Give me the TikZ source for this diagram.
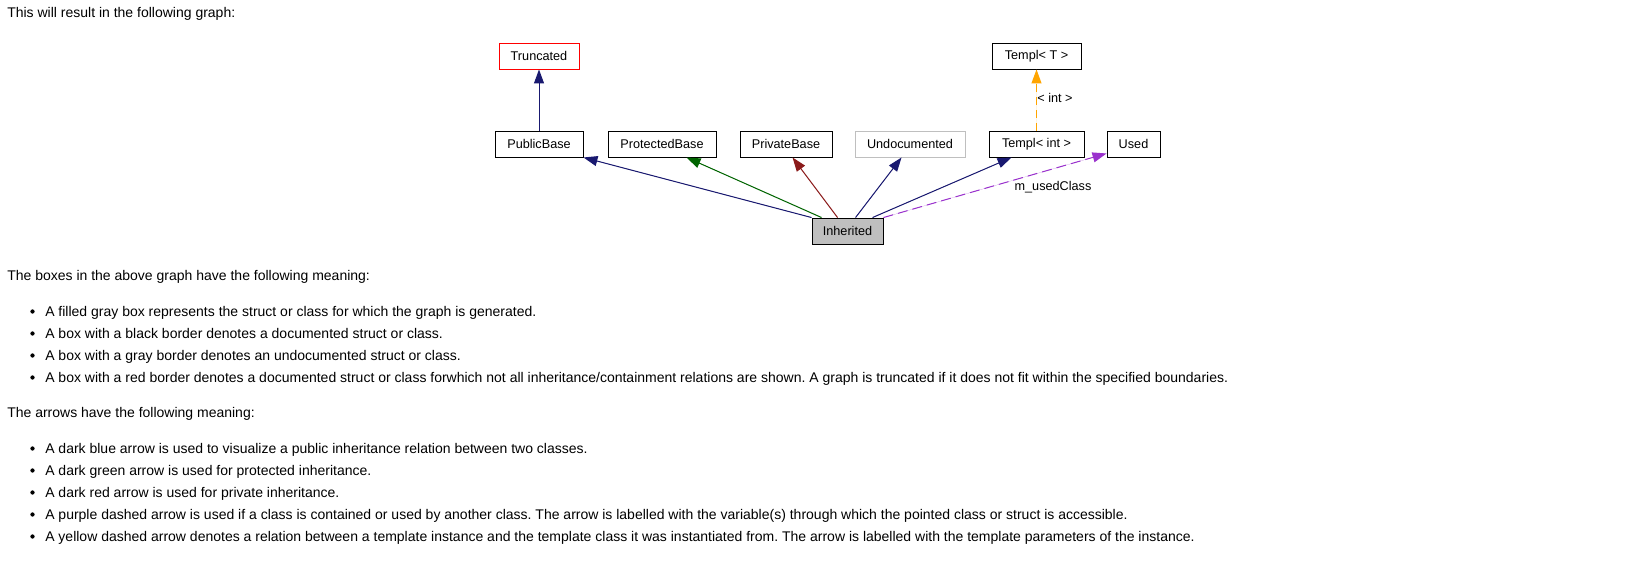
\documentclass[tikz,border=0pt]{standalone}
\usepackage{fontspec}
\setmainfont{Liberation Sans}
\newfontfamily\gfont{Liberation Sans}
\usetikzlibrary{arrows.meta,calc}
\frenchspacing
\definecolor{mblue}{HTML}{191970}
\definecolor{dgreen}{HTML}{006400}
\definecolor{dred}{HTML}{8B1A1A}
\definecolor{dpurple}{HTML}{9A32CD}
\definecolor{gorange}{HTML}{FFA500}
\definecolor{gfill}{HTML}{BFBFBF}
\tikzset{
  cls/.style={draw=black, line width=0.7pt, minimum height=19.5pt, inner sep=0pt,
    font=\gfont\fontsize{9.5}{11}\selectfont},
  edge/.style={line width=0.75pt, -{Triangle[length=10.5pt,width=7.5pt]}},
  pubedge/.style={edge, draw=mblue, fill=mblue},
  protedge/.style={edge, draw=dgreen, fill=dgreen},
  privedge/.style={edge, draw=dred, fill=dred},
  useedge/.style={edge, draw=dpurple, fill=dpurple, dash pattern=on 7.5pt off 3.75pt},
  tmpledge/.style={edge, draw=gorange, fill=gorange, dash pattern=on 6pt off 3.75pt},
  lbl/.style={inner sep=0pt, font=\gfont\fontsize{9.5}{11}\selectfont},
  txt/.style={anchor=base west, inner sep=0pt, font=\gfont\fontsize{10.5}{12}\selectfont\frenchspacing},
}
\begin{document}
\begin{tikzpicture}[x=0.75pt, y=-0.75pt]
\useasboundingbox (0,0) rectangle (1644,560);
\fill[white] (0,0) rectangle (1644,560);

% graph nodes
\node[cls, draw=red, minimum width=60pt] (trunc) at (539,56) {Truncated};
\node[cls, minimum width=66pt] (pub) at (539,144) {PublicBase};
\node[cls, minimum width=81pt] (prot) at (662,144) {ProtectedBase};
\node[cls, minimum width=69pt] (priv) at (786,144) {PrivateBase};
\node[cls, draw=gfill, minimum width=82.5pt] (und) at (910,144) {Undocumented};
\node[cls, minimum width=71.25pt] (tint) at (1036.5,144) {Templ< int >};
\node[cls, minimum width=39.75pt] (used) at (1133.5,144) {Used};
\node[cls, minimum width=66.75pt] (tT) at (1036.5,56) {Templ< T >};
\node[cls, fill=gfill, minimum width=53.25pt] (inh) at (847.5,231) {Inherited};

% edges
\draw[pubedge] (pub.north) -- (trunc.south);
\draw[pubedge] (inh.north west) -- (pub.south east);
\draw[protedge] ($(inh.north west)+(10,0)$) -- ($(prot.south west)+(79,0)$);
\draw[privedge] ($(inh.north west)+(26,0)$) -- ($(priv.south west)+(53,0)$);
\draw[pubedge] ($(inh.north west)+(44,0)$) -- ($(und.south west)+(47,0)$);
\draw[pubedge] ($(inh.north west)+(61,0)$) -- ($(tint.south west)+(23,0)$);
\draw[useedge] (inh.north east) -- ($(used.south west)+(0,-4)$);
\draw[tmpledge] (tint.north) -- (tT.south);

% edge labels
\node[lbl] (lused) at (1053,187) {m\_usedClass};
\node[lbl] (lint) at (1055,98) {< int >};

% body text
\node[txt] (t0) at (7,18) {This will result in the following graph:};
\node[txt] (t1) at (7,280) {The boxes in the above graph have the following meaning:};
\node[txt] (b1) at (45,316) {A filled gray box represents the struct or class for which the graph is generated.};
\node[txt] (b2) at (45,338) {A box with a black border denotes a documented struct or class.};
\node[txt] (b3) at (45,360) {A box with a gray border denotes an undocumented struct or class.};
\node[txt] (b4) at (45,382) {A box with a red border denotes a documented struct or class forwhich not all inheritance/containment relations are shown. A graph is truncated if it does not fit within the specified boundaries.};
\node[txt] (t2) at (7,417) {The arrows have the following meaning:};
\node[txt] (c1) at (45,453) {A dark blue arrow is used to visualize a public inheritance relation between two classes.};
\node[txt] (c2) at (45,475) {A dark green arrow is used for protected inheritance.};
\node[txt] (c3) at (45,497) {A dark red arrow is used for private inheritance.};
\node[txt] (c4) at (45,519) {A purple dashed arrow is used if a class is contained or used by another class. The arrow is labelled with the variable(s) through which the pointed class or struct is accessible.};
\node[txt] (c5) at (45,541) {A yellow dashed arrow denotes a relation between a template instance and the template class it was instantiated from. The arrow is labelled with the template parameters of the instance.};

% bullets
\foreach \yy in {316,338,360,382,453,475,497,519,541}
  \fill[black] (32.5,\yy-4.5) circle[radius=1.6pt];
\end{tikzpicture}
\end{document}
